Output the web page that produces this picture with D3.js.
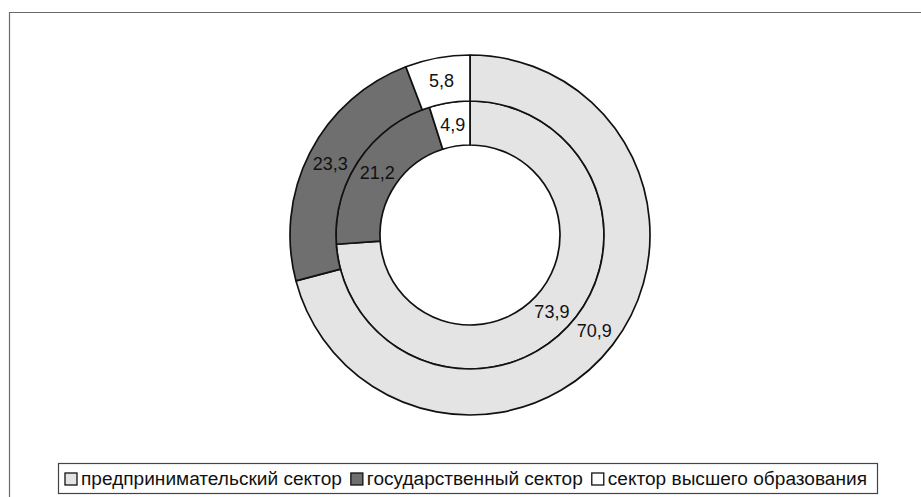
<!DOCTYPE html>
<html>
<head>
<meta charset="utf-8">
<script src="https://cdn.jsdelivr.net/npm/d3@7"></script>
<style>
  html, body { margin: 0; padding: 0; background: #fff; }
  svg { display: block; }
  text { font-family: "Liberation Sans", Arial, sans-serif; fill: #111; }
</style>
</head>
<body>
<svg id="chart" width="921" height="497"></svg>
<script>
const categories = ["предпринимательский сектор", "государственный сектор", "сектор высшего образования"];
const outerValues = [70.9, 23.3, 5.8];
const innerValues = [73.9, 21.2, 4.9];
const colors = ["#e4e4e4", "#6f6f6f", "#ffffff"];

const svg = d3.select("#chart");

// outer frame (top and left edges visible)
svg.append("path")
  .attr("d", "M9.5,497 L9.5,12.5 L921,12.5")
  .attr("fill", "none").attr("stroke", "#6a6a6a").attr("stroke-width", 1.2);

const cx = 470, cy = 235;
const rHole = 90, rMid = 134, rOuter = 180;

const pie = d3.pie().sort(null).value(d => d);
const fmt = d3.formatLocale({decimal: ",", thousands: " ", grouping: [3], currency: ["", ""]}).format(".1f");

const g = svg.append("g").attr("transform", `translate(${cx},${cy})`);

function ring(values, r0, r1) {
  const arc = d3.arc().innerRadius(r0).outerRadius(r1);
  const arcs = pie(values);
  g.append("g").selectAll("path").data(arcs).join("path")
    .attr("d", arc)
    .attr("fill", (d, i) => colors[i])
    .attr("stroke", "#111").attr("stroke-width", 1.7).attr("stroke-linejoin", "round");
  g.append("g").selectAll("text").data(arcs).join("text")
    .attr("transform", d => `translate(${arc.centroid(d)})`)
    .attr("text-anchor", "middle").attr("dy", "0.36em")
    .style("font-size", "18px")
    .text(d => fmt(d.data));
}
ring(innerValues, rHole, rMid);
ring(outerValues, rMid, rOuter);

// legend
const lx0 = 58, ly0 = 463, lw = 819, lh = 30;
svg.append("rect").attr("x", lx0 + 0.5).attr("y", ly0 + 0.5).attr("width", lw).attr("height", lh)
  .attr("fill", "#fff").attr("stroke", "#444").attr("stroke-width", 1.2);

const leg = svg.append("g");
const items = leg.selectAll("g").data(categories).join("g");
items.append("rect").attr("width", 12).attr("height", 12)
  .attr("fill", (d, i) => colors[i]).attr("stroke", "#111").attr("stroke-width", 1.3);
const texts = items.append("text").attr("x", 16)
  .style("font-size", "18px").text(d => d);

// condensed text, fitted to span the box as in the reference
const startX = 65, endX = 867, gap = 9, mark = 16;
const widths = texts.nodes().map(n => n.getComputedTextLength());
const k = (endX - startX - 3 * mark - 2 * gap) / d3.sum(widths);
texts.attr("textLength", (d, i) => widths[i] * k).attr("lengthAdjust", "spacingAndGlyphs");
let x = startX;
items.each(function(d, i) {
  d3.select(this).attr("transform", `translate(${x},${ly0 + 10})`);
  x += mark + widths[i] * k + gap;
});
texts.attr("y", 11.5);
</script>
</body>
</html>
